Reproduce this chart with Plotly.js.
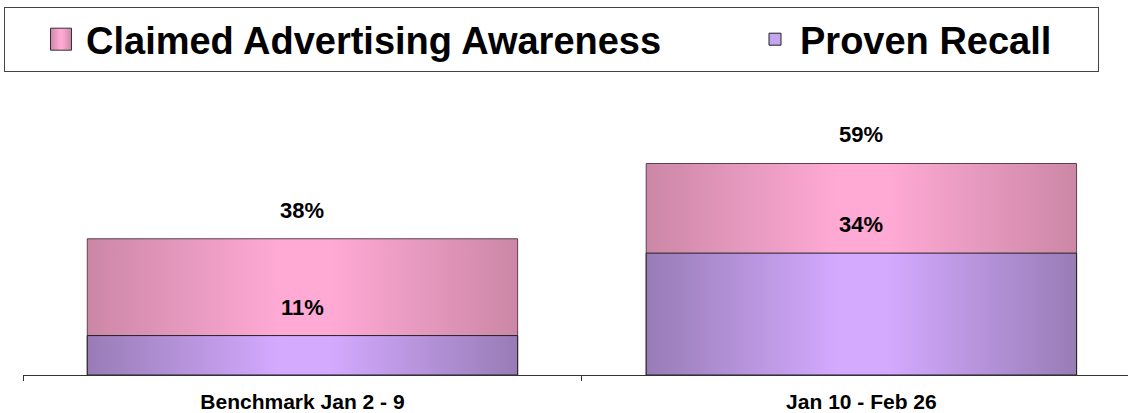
<!DOCTYPE html>
<html><head><meta charset="utf-8">
<script src="https://cdn.plot.ly/plotly-3.0.1.min.js"></script>
<style>html,body{margin:0;padding:0;background:#fff;} #chart{width:1128px;height:413px;}</style>
</head><body><div id="chart"></div>
<script>
const categories = ['Benchmark Jan 2 - 9', 'Jan 10 - Feb 26'];
const claimedAwareness = [38, 59];
const provenRecall = [11, 34];
const seriesNames = ['Claimed Advertising Awareness', 'Proven Recall'];

const FONT = 'Liberation Sans, Arial, Helvetica, sans-serif';
const catIndex = categories.map((c, i) => i);
const catBoundaries = [-0.5].concat(catIndex.map(i => i + 0.5));

const traces = [
  {type: 'bar', name: seriesNames[0], x: catIndex, y: claimedAwareness, width: 0.77,
   marker: {color: '#f0a6cc', line: {color: '#5a4050', width: 1}}, hoverinfo: 'skip', legend: 'legend'},
  {type: 'bar', name: seriesNames[1], x: catIndex, y: provenRecall, width: 0.77,
   marker: {color: '#c5a5ee', line: {color: '#222222', width: 1}}, hoverinfo: 'skip', legend: 'legend2'}
];

const annotations = [];
[claimedAwareness, provenRecall].forEach(arr => arr.forEach((v, i) => annotations.push({
  x: i, y: v, xref: 'x', yref: 'y', text: v + '%', showarrow: false,
  yanchor: 'bottom', yshift: 14,
  font: {family: FONT, size: 22, weight: 700, color: '#000'}
})));

const legendFont = {family: FONT, size: 38, weight: 700, color: '#000'};
const layout = {
  width: 1128, height: 413,
  margin: {l: 23, r: 0, t: 80, b: 38},
  barmode: 'overlay',
  paper_bgcolor: '#fff', plot_bgcolor: '#fff',
  showlegend: true,
  legend: {orientation: 'h', xref: 'container', yref: 'container', x: 4 / 1128, y: 1 - 7 / 413,
    xanchor: 'left', yanchor: 'top', bordercolor: '#444', borderwidth: 1, bgcolor: '#fff',
    font: legendFont, itemwidth: 40, indentation: 31, entrywidth: 1007,
    itemclick: false, itemdoubleclick: false},
  legend2: {orientation: 'h', xref: 'container', yref: 'container', x: 750 / 1128, y: 1 - 8 / 413,
    xanchor: 'left', yanchor: 'top', borderwidth: 0, bgcolor: 'rgba(0,0,0,0)',
    font: legendFont, itemwidth: 40, itemclick: false, itemdoubleclick: false},
  xaxis: {type: 'linear', range: [-0.5, 1.477], showline: true, linecolor: '#333', linewidth: 1,
    tickmode: 'array', tickvals: catIndex, ticktext: categories, ticks: '', showgrid: false, zeroline: false,
    ticklabelstandoff: 8,
    minor: {tickmode: 'array', tickvals: catBoundaries, ticks: 'outside', ticklen: 5, tickcolor: '#333', tickwidth: 1, showgrid: false},
    tickfont: {family: FONT, size: 21, weight: 700, color: '#000'}, fixedrange: true},
  yaxis: {range: [0, 82.29], visible: false, fixedrange: true},
  annotations: annotations
};

Plotly.newPlot('chart', traces, layout, {staticPlot: true, displayModeBar: false}).then(gd => {
  const ns = 'http://www.w3.org/2000/svg';
  const svg = gd.querySelector('svg.main-svg');
  let defs = svg.querySelector('defs');
  if (!defs) { defs = document.createElementNS(ns, 'defs'); svg.insertBefore(defs, svg.firstChild); }
  function grad(id, edge, center) {
    const lg = document.createElementNS(ns, 'linearGradient');
    lg.setAttribute('id', id);
    lg.setAttribute('x1', '0'); lg.setAttribute('y1', '0');
    lg.setAttribute('x2', '1'); lg.setAttribute('y2', '0');
    [[0, edge], [0.45, center], [0.56, center], [1, edge]].forEach(s => {
      const st = document.createElementNS(ns, 'stop');
      st.setAttribute('offset', s[0]);
      st.setAttribute('stop-color', s[1]);
      lg.appendChild(st);
    });
    defs.appendChild(lg);
  }
  grad('gPink', '#cc87a6', '#ffaad5');
  grad('gPurple', '#987cb6', '#d4aaff');
  const fills = ['url(#gPink)', 'url(#gPurple)'];
  gd.querySelectorAll('.barlayer .trace').forEach((t, i) => {
    t.querySelectorAll('path').forEach(p => { p.style.fill = fills[i]; });
  });
  gd.querySelectorAll('.legend .traces, .legend2 .traces, g.traces').forEach(item => {
    if (!item.querySelector('.legendtext')) return;
    let idx = 0;
    try { idx = item.__data__[0].trace.index; } catch (e) {}
    const txt = item.querySelector('.legendtext');
    item.querySelectorAll('.legendpoints path').forEach(p => {
      p.removeAttribute('transform');
      p.setAttribute('d', 'M10.5,11H-10.5V-11H10.5Z');
      p.style.fill = fills[idx] || fills[0];
      p.style.stroke = '#333';
      p.style.strokeWidth = '1px';
      const tb = txt.getBoundingClientRect();
      const pb = p.getBoundingClientRect();
      const dx = (tb.left - 25) - (pb.left + pb.width / 2);
      p.setAttribute('transform', 'translate(' + dx.toFixed(1) + ',0)');
    });
  });
});
</script>
</body></html>
